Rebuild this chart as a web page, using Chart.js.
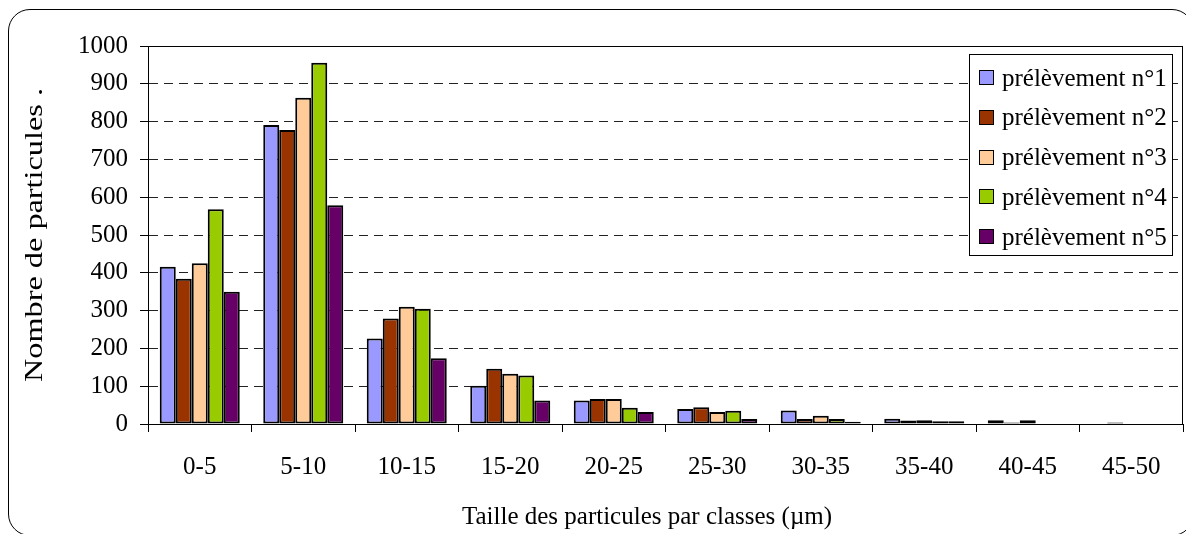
<!DOCTYPE html>
<html>
<head>
<meta charset="utf-8">
<script src="https://cdn.jsdelivr.net/npm/chart.js@4"></script>
<style>
  html, body { margin: 0; padding: 0; background: #fff; }
  body { width: 1186px; height: 534px; position: relative; overflow: hidden; }
  #frame {
    position: absolute; left: 8px; top: 9px; width: 1186px; height: 527px;
    border: 1.5px solid #000; border-radius: 22px; box-sizing: border-box;
  }
  #wrap { position: absolute; left: 0; top: 0; width: 1186px; height: 534px; }
</style>
</head>
<body>
<div id="frame"></div>
<div id="wrap"><canvas id="chart" width="1186" height="534"></canvas></div>
<script>
// data
const classes = ['0-5', '5-10', '10-15', '15-20', '20-25', '25-30', '30-35', '35-40', '40-45', '45-50'];
const seriesNames = ['prélèvement n°1', 'prélèvement n°2', 'prélèvement n°3', 'prélèvement n°4', 'prélèvement n°5'];
const prel1 = [416, 791, 226, 101, 62, 40, 36, 14, 10, 0];
const prel2 = [384, 778, 279, 146, 66, 44, 13, 9, 4, 4];
const prel3 = [425, 863, 310, 133, 66, 32, 22, 10, 10, 0];
const prel4 = [568, 956, 305, 128, 43, 35, 13, 7, 0, 0];
const prel5 = [350, 579, 174, 62, 32, 13, 6, 7, 0, 0];
const yTicks = [0, 100, 200, 300, 400, 500, 600, 700, 800, 900, 1000];
const xTitle = 'Taille des particules par classes (µm)';
const yTitle = 'Nombre de particules .';

const colors = ['#9999FF', '#993300', '#FFCC99', '#99CC00', '#660066'];
const FONT = "'Liberation Serif', 'Times New Roman', serif";

const allSeries = [prel1, prel2, prel3, prel4, prel5];
const datasets = allSeries.map((vals, i) => ({
  label: seriesNames[i],
  data: vals,
  backgroundColor: colors[i],
  borderColor: '#000',
  borderWidth: 2,
  borderSkipped: false,
  categoryPercentage: 0.773,
  barPercentage: 1.0
}));

// plot frame, axis titles and legend box drawn on top
const framePlugin = {
  id: 'framePlugin',
  afterDatasetsDraw(chart) {
    const ctx = chart.ctx;
    const a = chart.chartArea;
    ctx.save();
    ctx.strokeStyle = '#000';
    ctx.lineWidth = 1;
    ctx.strokeRect(Math.round(a.left) + 0.5, Math.round(a.top) + 0.5,
      Math.round(a.right - a.left) - 1, Math.round(a.bottom - a.top));
    ctx.restore();
  },
  afterDraw(chart) {
    const ctx = chart.ctx;
    ctx.save();
    ctx.fillStyle = '#000';
    ctx.font = '25px ' + FONT;
    ctx.textAlign = 'center';
    ctx.textBaseline = 'middle';
    // x axis title (centred like the original, a bit left of the plot centre)
    ctx.fillText(xTitle, 647, 517);

    // y axis title, stretched along its length as in the original
    ctx.save();
    ctx.translate(35, 235);
    ctx.rotate(-Math.PI / 2);
    const w = ctx.measureText(yTitle).width;
    ctx.scale(294 / w, 1);
    ctx.fillText(yTitle, 0, 0);
    ctx.restore();

    // legend
    const bx = 969.5, by = 54.5, bw = 203, bh = 201;
    ctx.fillStyle = '#fff';
    ctx.fillRect(bx, by, bw, bh);
    ctx.strokeStyle = '#000';
    ctx.lineWidth = 1;
    ctx.strokeRect(bx, by, bw, bh);
    ctx.textAlign = 'left';
    ctx.textBaseline = 'alphabetic';
    chart.data.datasets.forEach((ds, i) => {
      const cy = 77.7 + i * 39.7;
      ctx.fillStyle = ds.backgroundColor;
      ctx.fillRect(979.5, Math.round(cy - 7.5) + 0.5, 14, 14);
      ctx.strokeRect(979.5, Math.round(cy - 7.5) + 0.5, 14, 14);
      ctx.fillStyle = '#000';
      ctx.fillText(ds.label, 1002, cy + 8);
    });
    ctx.restore();
  }
};

new Chart(document.getElementById('chart').getContext('2d'), {
  type: 'bar',
  data: { labels: classes, datasets },
  options: {
    responsive: false,
    animation: false,
    layout: { padding: { left: 0, top: 46, right: 3, bottom: 0 } },
    plugins: { legend: { display: false }, tooltip: { enabled: false } },
    scales: {
      x: {
        grid: { offset: true, drawOnChartArea: false, drawTicks: true, tickLength: 8, color: '#000' },
        border: { display: true, color: '#000', width: 1 },
        ticks: { color: '#000', font: { family: FONT, size: 25 }, padding: 20, maxRotation: 0 },
        afterFit(scale) { scale.height = 110; }
      },
      y: {
        min: 0, max: 1000,
        afterBuildTicks(scale) { scale.ticks = yTicks.map(v => ({ value: v })); },
        grid: { color: '#222', lineWidth: 1, tickLength: 8, tickColor: '#000' },
        border: { display: true, color: '#000', width: 1, dash: [9, 6] },
        ticks: { color: '#000', font: { family: FONT, size: 25 }, padding: 12,
          callback: v => String(v) },
        afterFit(scale) { scale.width = 148; }
      }
    }
  },
  plugins: [framePlugin]
});
</script>
</body>
</html>
